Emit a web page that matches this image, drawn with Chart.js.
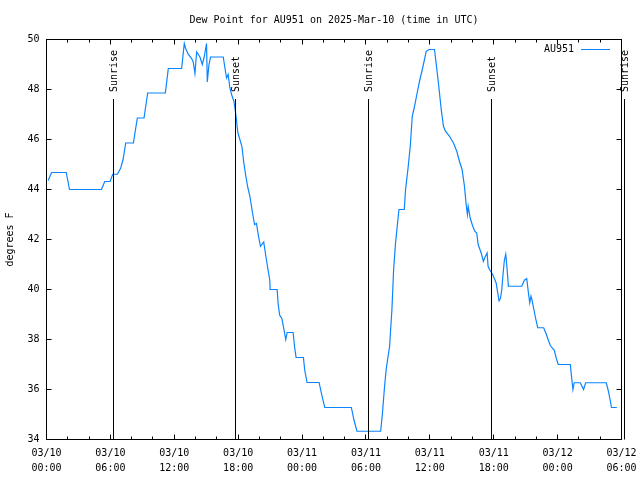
<!DOCTYPE html>
<html>
<head>
<meta charset="utf-8">
<script src="https://cdn.jsdelivr.net/npm/chart.js@4"></script>
<style>
  html, body { margin: 0; padding: 0; background: #fff; }
  #wrap { width: 640px; height: 480px; }
</style>
</head>
<body>
<div id="wrap"><canvas id="chart" width="640" height="480"></canvas></div>
<script>
// hours since 03/10 00:00 UTC
const hours = [
  0.16, 0.47, 1.85, 2.0, 2.16, 5.16, 5.47, 5.97, 6.22, 6.66, 6.97, 7.19, 7.44, 8.16, 8.53, 9.16,
  9.5, 11.16, 11.44, 12.69, 12.94, 13.07, 13.31, 13.63, 13.78, 13.94, 14.1, 14.41, 14.63, 14.81,
  15.03, 15.1, 15.25, 15.41, 16.6, 16.78, 16.91, 17.06, 17.22, 17.38, 17.6, 17.78, 17.97, 18.16,
  18.35, 18.53, 18.72, 18.91, 19.1, 19.35, 19.54, 19.72, 19.91, 20.1, 20.4, 20.6, 20.8, 20.97,
  21.0, 21.66, 21.75, 21.9, 22.1, 22.28, 22.47, 22.6, 23.16, 23.3, 23.44, 24.13, 24.25, 24.47,
  25.6, 25.82, 26.13, 28.63, 28.88, 29.16, 31.38, 31.54, 31.75, 31.9, 32.22, 32.44, 32.6, 32.78,
  32.97, 33.1, 33.6, 33.72, 33.94, 34.16, 34.35, 34.53, 34.78, 35.03, 35.29, 35.5, 35.66, 35.91,
  36.44, 36.66, 36.84, 37.07, 37.28, 37.47, 37.85, 38.22, 38.53, 38.78, 39.03, 39.25, 39.41,
  39.53, 39.6, 39.79, 40.03, 40.22, 40.4, 40.54, 40.82, 41.03, 41.22, 41.38, 41.47, 41.6, 41.9,
  42.22, 42.5, 42.63, 42.75, 42.88, 43.0, 43.13, 43.26, 43.38, 44.63, 44.88, 45.1, 45.25, 45.38,
  45.5, 45.6, 45.75, 45.94, 46.13, 46.69, 46.91, 47.13, 47.31, 47.45, 47.69, 47.88, 48.06, 49.19,
  49.31, 49.44, 49.56, 50.13, 50.44, 50.63, 52.57, 52.75, 52.94, 53.06, 53.56
];
const dewPoint = [
  44.36, 44.68, 44.68, 44.36, 44.0, 44.0, 44.32, 44.32, 44.61, 44.61, 44.86, 45.2, 45.86, 45.86, 46.86, 46.86,
  47.86, 47.86, 48.84, 48.84, 49.84, 49.64, 49.41, 49.24, 49.1, 48.64, 49.5, 49.3, 49.0, 49.3,
  49.84, 48.3, 48.97, 49.3, 49.3, 48.8, 48.46, 48.6, 48.07, 47.8, 47.53, 47.0, 46.27, 46.0,
  45.73, 45.07, 44.53, 44.07, 43.73, 43.06, 42.6, 42.64, 42.13, 41.73, 41.9, 41.33, 40.8, 40.37,
  40.0, 40.0, 39.44, 38.97, 38.84, 38.44, 38.0, 38.28, 38.28, 37.7, 37.28, 37.28, 36.77, 36.28,
  36.28, 35.84, 35.28, 35.28, 34.77, 34.33, 34.33, 35.0, 36.13, 36.8, 37.73, 39.2, 40.8, 41.86,
  42.66, 43.2, 43.2, 44.0, 44.8, 45.73, 46.93, 47.26, 47.8, 48.33, 48.8, 49.2, 49.53, 49.6,
  49.6, 48.8, 48.13, 47.2, 46.53, 46.33, 46.13, 45.86, 45.53, 45.13, 44.8, 44.13, 43.4,
  43.0, 43.33, 42.86, 42.53, 42.33, 42.26, 41.8, 41.46, 41.13, 41.33, 41.46, 40.93, 40.8, 40.6,
  40.27, 39.55, 39.64, 39.97, 40.64, 41.17, 41.41, 40.8, 40.13, 40.13, 40.37, 40.44, 39.9, 39.47,
  39.73, 39.57, 39.24, 38.84, 38.47, 38.47, 38.24, 37.97, 37.77, 37.68, 37.57, 37.24, 37.0, 37.0,
  36.5, 36.0, 36.27, 36.27, 36.0, 36.27, 36.27, 35.97, 35.57, 35.28, 35.28
];

const xTickHours = [0, 6, 12, 18, 24, 30, 36, 42, 48, 54];
const xTickLabels = [
  ['03/10', '00:00'], ['03/10', '06:00'], ['03/10', '12:00'], ['03/10', '18:00'],
  ['03/11', '00:00'], ['03/11', '06:00'], ['03/11', '12:00'], ['03/11', '18:00'],
  ['03/12', '00:00'], ['03/12', '06:00']
];
const xMinorHours = [2, 4, 8, 10, 14, 16, 20, 22, 26, 28, 32, 34, 38, 40, 44, 46, 50, 52];
const yTicks = [34, 36, 38, 40, 42, 44, 46, 48, 50];

const sunHours = [6.28, 17.72, 30.22, 41.75, 54.25];
const sunLabels = ['Sunrise', 'Sunset', 'Sunrise', 'Sunset', 'Sunrise'];

const seriesName = 'AU951';
const titleText = 'Dew Point for AU951 on 2025-Mar-10 (time in UTC)';
const yTitleText = 'degrees F';

const FONT = "'DejaVu Sans Mono', monospace";
const LINE_COLOR = '#0a84ff';

function crisp(v) {
  return Math.round(v - 0.5) + 0.5;
}

const decorPlugin = {
  id: 'decor',
  afterDatasetsDraw(chart) {
    const ctx = chart.ctx;
    const area = chart.chartArea;
    const xs = chart.scales.x;
    const ys = chart.scales.y;
    const left = crisp(area.left);
    const right = crisp(area.right);
    const top = crisp(area.top);
    const bottom = crisp(area.bottom);

    ctx.save();
    ctx.strokeStyle = '#000';
    ctx.lineWidth = 1;

    // sunrise / sunset markers
    ctx.font = '10px ' + FONT;
    ctx.fillStyle = '#000';
    sunHours.forEach((h, i) => {
      const x = crisp(xs.getPixelForValue(h));
      ctx.beginPath();
      ctx.moveTo(x, 99);
      ctx.lineTo(x, bottom);
      ctx.stroke();
      ctx.save();
      ctx.translate(x + 1, 92);
      ctx.rotate(-Math.PI / 2);
      ctx.textAlign = 'left';
      ctx.textBaseline = 'middle';
      ctx.fillText(sunLabels[i], 0, 0);
      ctx.restore();
    });

    // border
    ctx.strokeRect(left, top, right - left, bottom - top);

    // ticks, mirrored, inward
    ctx.beginPath();
    xTickHours.forEach((h) => {
      const x = crisp(xs.getPixelForValue(h));
      ctx.moveTo(x, bottom); ctx.lineTo(x, bottom - 5);
      ctx.moveTo(x, top); ctx.lineTo(x, top + 5);
    });
    xMinorHours.forEach((h) => {
      const x = crisp(xs.getPixelForValue(h));
      ctx.moveTo(x, bottom); ctx.lineTo(x, bottom - 3);
      ctx.moveTo(x, top); ctx.lineTo(x, top + 3);
    });
    yTicks.forEach((v) => {
      const y = crisp(ys.getPixelForValue(v));
      ctx.moveTo(left, y); ctx.lineTo(left + 5, y);
      ctx.moveTo(right, y); ctx.lineTo(right - 5, y);
    });
    ctx.stroke();

    // title
    ctx.textBaseline = 'middle';
    ctx.textAlign = 'center';
    ctx.fillText(titleText, (area.left + area.right) / 2, 20);

    // y axis title
    ctx.save();
    ctx.translate(10, (area.top + area.bottom) / 2);
    ctx.rotate(-Math.PI / 2);
    ctx.fillText(yTitleText, 0, 0);
    ctx.restore();

    // legend
    ctx.textAlign = 'right';
    ctx.fillText(seriesName, 574, 49.5);
    ctx.strokeStyle = LINE_COLOR;
    ctx.beginPath();
    ctx.moveTo(581, 49.5);
    ctx.lineTo(610, 49.5);
    ctx.stroke();

    ctx.restore();
  }
};

new Chart(document.getElementById('chart'), {
  type: 'line',
  data: {
    datasets: [{
      label: seriesName,
      data: hours.map((h, i) => ({ x: h, y: dewPoint[i] })),
      borderColor: LINE_COLOR,
      borderWidth: 1.2,
      pointRadius: 0,
      tension: 0,
      fill: false,
    }],
  },
  options: {
    responsive: false,
    animation: false,
    devicePixelRatio: 1,
    layout: { padding: { left: 0, right: 18.5, top: 39.5, bottom: 0.5 } },
    plugins: {
      legend: { display: false },
      title: { display: false },
      tooltip: { enabled: false },
    },
    scales: {
      x: {
        type: 'linear',
        min: 0,
        max: 54,
        grid: { display: false, drawTicks: false },
        border: { display: false },
        afterBuildTicks: (scale) => {
          scale.ticks = xTickHours.map((v) => ({ value: v }));
        },
        afterFit: (scale) => {
          scale.height = 40;
          scale.paddingLeft = 0;
          scale.paddingRight = 0;
        },
        ticks: {
          autoSkip: false,
          maxRotation: 0,
          padding: 6,
          color: '#000',
          font: { family: FONT, size: 10, lineHeight: 1.5 },
          callback: (value) => {
            const i = xTickHours.indexOf(value);
            return i >= 0 ? xTickLabels[i] : '';
          },
        },
      },
      y: {
        min: 34,
        max: 50,
        grid: { display: false, drawTicks: false },
        border: { display: false },
        afterBuildTicks: (scale) => {
          scale.ticks = yTicks.map((v) => ({ value: v }));
        },
        afterFit: (scale) => {
          scale.width = 46.5;
          scale.paddingTop = 0;
          scale.paddingBottom = 0;
        },
        ticks: {
          padding: 7,
          color: '#000',
          font: { family: FONT, size: 10 },
        },
      },
    },
  },
  plugins: [decorPlugin],
});
</script>
</body>
</html>
